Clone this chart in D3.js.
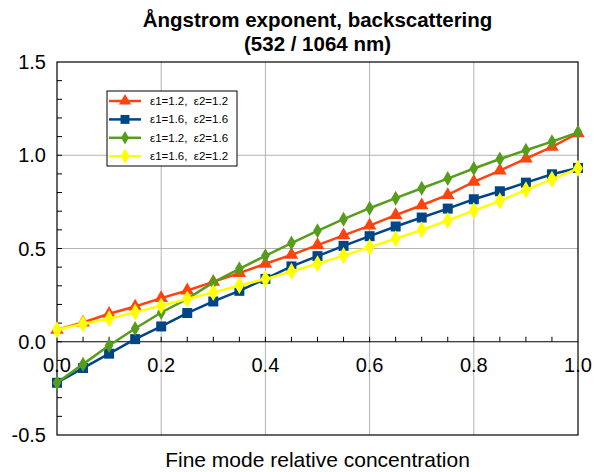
<!DOCTYPE html>
<html>
<head>
<meta charset="utf-8">
<script src="https://cdn.jsdelivr.net/npm/d3@7"></script>
<style>
  body { margin: 0; background: #fff; }
  text { font-family: 'Liberation Sans', Arial, sans-serif; }
</style>
</head>
<body>
<div id="chart"></div>
<script>
let width = 595
let height = 472
let margin = { top: 62, right: 17, bottom: 37, left: 57 }

// data
let fractions = [0, 0.05, 0.1, 0.15, 0.2, 0.25, 0.3, 0.35, 0.4, 0.45, 0.5,
  0.55, 0.6, 0.65, 0.7, 0.75, 0.8, 0.85, 0.9, 0.95, 1.0]
let seriesNames = ['ε1=1.2,  ε2=1.2', 'ε1=1.6,  ε2=1.6', 'ε1=1.2,  ε2=1.6', 'ε1=1.6,  ε2=1.2']
let red = [0.064, 0.103, 0.15, 0.189, 0.234, 0.275, 0.321, 0.368, 0.418, 0.466, 0.518,
  0.57, 0.623, 0.679, 0.732, 0.787, 0.857, 0.918, 0.982, 1.045, 1.118]
let blue = [-0.22, -0.141, -0.064, 0.014, 0.082, 0.154, 0.216, 0.273, 0.337, 0.404, 0.459,
  0.514, 0.566, 0.618, 0.666, 0.714, 0.764, 0.807, 0.853, 0.898, 0.932]
let green = [-0.22, -0.12, -0.02, 0.071, 0.157, 0.23, 0.318, 0.391, 0.461, 0.529, 0.595,
  0.657, 0.716, 0.77, 0.823, 0.875, 0.929, 0.98, 1.027, 1.073, 1.123]
let yellow = [0.064, 0.096, 0.123, 0.159, 0.193, 0.229, 0.264, 0.302, 0.336, 0.377, 0.418,
  0.462, 0.507, 0.552, 0.6, 0.65, 0.703, 0.755, 0.814, 0.871, 0.93]
let xTicks = [0, 0.2, 0.4, 0.6, 0.8, 1.0]
let yTicks = [-0.5, 0, 0.5, 1.0, 1.5]

let series = [
  { name: seriesNames[0], values: red, color: '#ff420e', shape: d3.symbolTriangle, size: 80 },
  { name: seriesNames[1], values: blue, color: '#004586', shape: d3.symbolSquare, size: 100 },
  { name: seriesNames[2], values: green, color: '#579d1c', shape: d3.symbolDiamond, size: 65 },
  { name: seriesNames[3], values: yellow, color: '#ffff00', shape: d3.symbolDiamond, size: 85 }
]

let svg = d3.select('#chart').append('svg')
  .attr('width', width)
  .attr('height', height)

let x = d3.scaleLinear().domain([0, 1]).range([margin.left, width - margin.right])
let y = d3.scaleLinear().domain([-0.5, 1.5]).range([height - margin.bottom, margin.top])

// grid
svg.append('g')
  .selectAll('line')
  .data(xTicks.slice(1, -1))
  .enter()
  .append('line')
  .attr('x1', d => x(d)).attr('x2', d => x(d))
  .attr('y1', y(1.5)).attr('y2', y(-0.5))
  .attr('stroke', '#b3b3b3').attr('stroke-width', 1)
svg.append('g')
  .selectAll('line')
  .data([0.5, 1.0])
  .enter()
  .append('line')
  .attr('x1', x(0)).attr('x2', x(1))
  .attr('y1', d => y(d)).attr('y2', d => y(d))
  .attr('stroke', '#b3b3b3').attr('stroke-width', 1)

// frame
svg.append('rect')
  .attr('x', x(0)).attr('y', y(1.5))
  .attr('width', x(1) - x(0)).attr('height', y(-0.5) - y(1.5))
  .attr('fill', 'none').attr('stroke', '#000').attr('stroke-width', 1.2)

// x axis at y = 0
svg.append('line')
  .attr('x1', x(0)).attr('x2', x(1))
  .attr('y1', y(0)).attr('y2', y(0))
  .attr('stroke', '#000').attr('stroke-width', 1.2)
svg.append('g')
  .selectAll('line')
  .data(d3.range(1, 20).map(i => i * 0.05))
  .enter()
  .append('line')
  .attr('x1', d => x(d)).attr('x2', d => x(d))
  .attr('y1', y(0)).attr('y2', y(0) - 5)
  .attr('stroke', '#000')
svg.append('g')
  .selectAll('line')
  .data(d3.range(-4, 15).map(i => i * 0.1))
  .enter()
  .append('line')
  .attr('x1', x(0)).attr('x2', x(0) + 5)
  .attr('y1', d => y(d)).attr('y2', d => y(d))
  .attr('stroke', '#000')

// tick labels
svg.append('g')
  .selectAll('text')
  .data(yTicks)
  .enter()
  .append('text')
  .attr('x', x(0) - 11)
  .attr('y', d => y(d) + 7)
  .attr('text-anchor', 'end')
  .style('font-size', '20px')
  .text(d => d.toFixed(1))
svg.append('g')
  .selectAll('text')
  .data(xTicks)
  .enter()
  .append('text')
  .attr('x', d => x(d))
  .attr('y', y(0) + 30)
  .attr('text-anchor', 'middle')
  .style('font-size', '20px')
  .text(d => d.toFixed(1))

// lines and markers
let line = d3.line()
  .x((d, i) => x(fractions[i]))
  .y(d => y(d))

series.forEach(s => {
  svg.append('path')
    .attr('d', line(s.values))
    .attr('fill', 'none')
    .attr('stroke', s.color)
    .attr('stroke-width', 2.5)
  svg.append('g')
    .selectAll('path')
    .data(s.values)
    .enter()
    .append('path')
    .attr('transform', (d, i) => 'translate(' + x(fractions[i]) + ',' + y(d) + ')')
    .attr('d', d3.symbol().type(s.shape).size(s.size))
    .attr('fill', s.color)
})

// legend
let legend = svg.append('g').attr('transform', 'translate(107,91)')
legend.append('rect')
  .attr('width', 130).attr('height', 75)
  .attr('fill', '#fff').attr('stroke', '#000').attr('stroke-width', 1)
series.forEach((s, i) => {
  let ly = 10 + i * 18.4
  legend.append('line')
    .attr('x1', 2).attr('x2', 34)
    .attr('y1', ly).attr('y2', ly)
    .attr('stroke', s.color).attr('stroke-width', 2.5)
  legend.append('path')
    .attr('transform', 'translate(18,' + ly + ')')
    .attr('d', d3.symbol().type(s.shape).size(s.size * 0.8))
    .attr('fill', s.color)
  legend.append('text')
    .attr('x', 43).attr('y', ly + 4)
    .style('font-size', '11.5px')
    .style('white-space', 'pre')
    .text(s.name)
})

// titles
let cx = (x(0) + x(1)) / 2
svg.append('text')
  .attr('x', cx).attr('y', 27)
  .attr('text-anchor', 'middle')
  .style('font-size', '20.5px').style('font-weight', 'bold')
  .text('Ångstrom exponent, backscattering')
svg.append('text')
  .attr('x', cx).attr('y', 51)
  .attr('text-anchor', 'middle')
  .style('font-size', '20.5px').style('font-weight', 'bold')
  .text('(532 / 1064 nm)')
svg.append('text')
  .attr('x', cx).attr('y', 467)
  .attr('text-anchor', 'middle')
  .style('font-size', '21px')
  .text('Fine mode relative concentration')
</script>
</body>
</html>
